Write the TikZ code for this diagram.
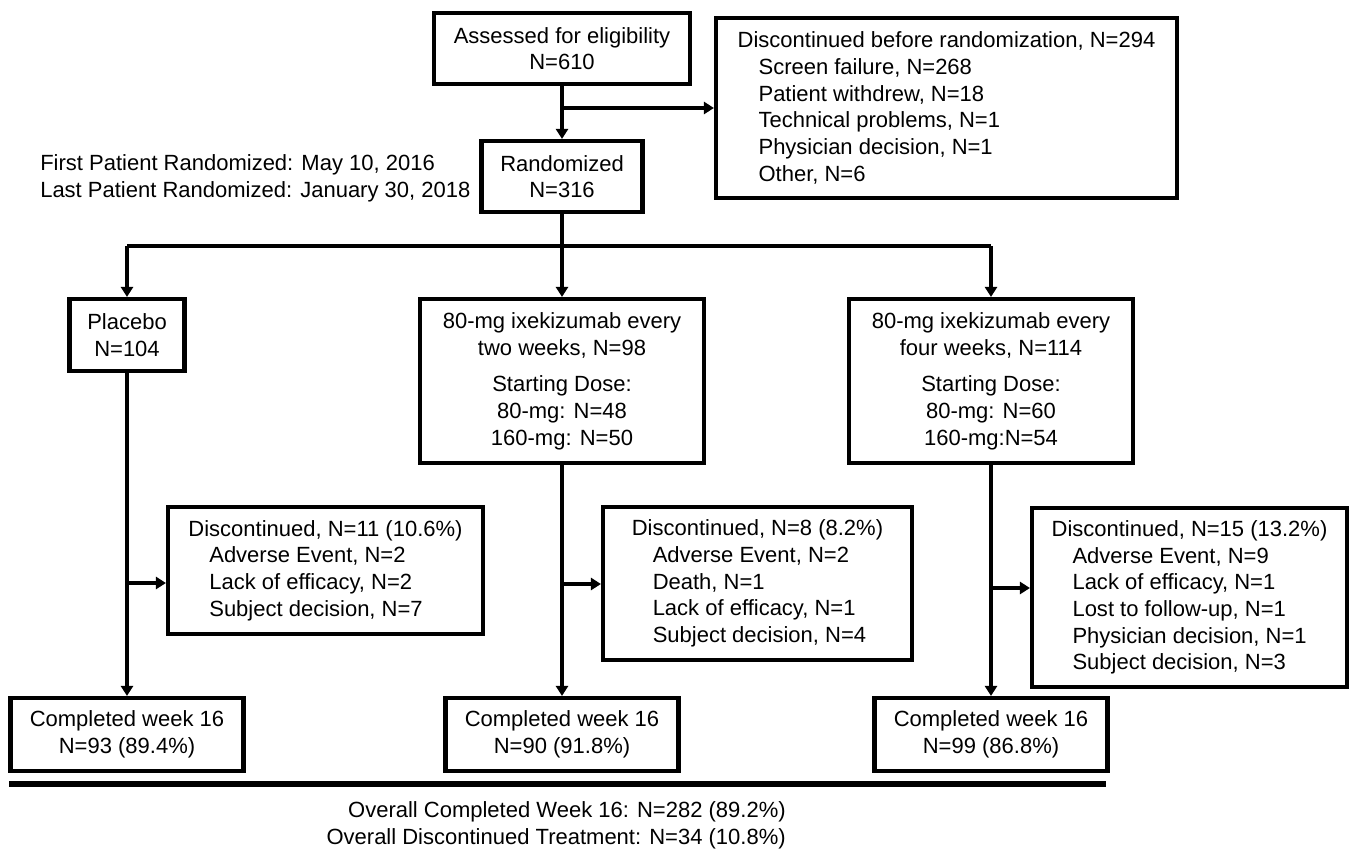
\documentclass[tikz,border=0pt]{standalone}
\usepackage{fontspec}
\setmainfont{Liberation Sans}
\usetikzlibrary{arrows.meta}
\newcommand\myind{\hspace*{0.95em}}
\begin{document}
\begin{tikzpicture}[x=0.75pt,y=-0.75pt,
  every node/.style={font=\fontsize{16.5}{20}\selectfont, inner sep=0pt},
  box/.style={draw, line width=3.1pt, align=center},
  lbox/.style={draw, line width=3.1pt, align=left},
  conn/.style={line width=3.1pt},
  arr/.style={line width=3.1pt, -{Triangle[length=7.5pt,width=9pt]}},
]
\useasboundingbox (0,0) rectangle (1351,849);

% top
\node[box, minimum width=192pt, minimum height=53.25pt] (assess) at (562,48.5) {Assessed for eligibility\\N=610};
\node[box, minimum width=120.75pt, minimum height=53.25pt] (rand) at (562,176.5) {Randomized\\N=316};
\node[lbox, minimum width=345.75pt, minimum height=135pt] (disc0) at (946.5,108) {Discontinued before randomization, N=294\\
\myind Screen failure, N=268\\
\myind Patient withdrew, N=18\\
\myind Technical problems, N=1\\
\myind Physician decision, N=1\\
\myind Other, N=6};
\node[align=left, anchor=west] (dates) at (40,178) {First Patient Randomized: May 10, 2016\\Last Patient Randomized: January 30, 2018};

% arms
\node[box, minimum width=86.25pt, minimum height=54pt] (placebo) at (127,335) {Placebo\\N=104};
\node[box, minimum width=213pt, minimum height=123pt] (arm2) at (562,381) {80-mg ixekizumab every\\two weeks, N=98\\[7.5pt]Starting Dose:\\80-mg: N=48\\160-mg: N=50};
\node[box, minimum width=213pt, minimum height=123pt] (arm3) at (991,381) {80-mg ixekizumab every\\four weeks, N=114\\[7.5pt]Starting Dose:\\80-mg: N=60\\160-mg:N=54};

% discontinued
\node[lbox, minimum width=236.25pt, minimum height=95.25pt] (disc1) at (325.5,570.5) {Discontinued, N=11 (10.6\%)\\
\myind Adverse Event, N=2\\
\myind Lack of efficacy, N=2\\
\myind Subject decision, N=7};
\node[lbox, minimum width=231.75pt, minimum height=114.75pt] (disc2) at (757.5,583.5) {Discontinued, N=8 (8.2\%)\\
\myind Adverse Event, N=2\\
\myind Death, N=1\\
\myind Lack of efficacy, N=1\\
\myind Subject decision, N=4};
\node[lbox, minimum width=236.25pt, minimum height=134.25pt] (disc3) at (1189.5,597.5) {Discontinued, N=15 (13.2\%)\\
\myind Adverse Event, N=9\\
\myind Lack of efficacy, N=1\\
\myind Lost to follow-up, N=1\\
\myind Physician decision, N=1\\
\myind Subject decision, N=3};

% completed
\node[box, minimum width=174.75pt, minimum height=54.75pt] (comp1) at (127,734.5) {Completed week 16\\N=93 (89.4\%)};
\node[box, minimum width=174.75pt, minimum height=54.75pt] (comp2) at (562,734.5) {Completed week 16\\N=90 (91.8\%)};
\node[box, minimum width=174.75pt, minimum height=54.75pt] (comp3) at (991,734.5) {Completed week 16\\N=99 (86.8\%)};

\node[align=right, anchor=east] (overall) at (786,825) {Overall Completed Week 16: N=282 (89.2\%)\\Overall Discontinued Treatment: N=34 (10.8\%)};

% connectors
\draw[arr] (assess.south) -- (rand.north);
\draw[arr] (assess.south |- disc0.west) -- (disc0.west);
\coordinate (split) at (562,246);
\draw[conn] (rand.south) -- (split);
\draw[conn] (placebo.north |- split) -- (arm3.north |- split);
\draw[arr] (placebo.north |- split) -- (placebo.north);
\draw[arr] (split) -- (arm2.north);
\draw[arr] (arm3.north |- split) -- (arm3.north);

\draw[arr] (placebo.south) -- (comp1.north);
\draw[arr] (arm2.south) -- (comp2.north);
\draw[arr] (arm3.south) -- (comp3.north);

\coordinate (s1) at (127,583);
\coordinate (s2) at (562,584);
\coordinate (s3) at (991,588);
\draw[arr] (s1) -- (s1 -| disc1.west);
\draw[arr] (s2) -- (s2 -| disc2.west);
\draw[arr] (s3) -- (s3 -| disc3.west);

\coordinate (ruleL) at (9,784);
\coordinate (ruleR) at (1106,784);
\draw[line width=3.8pt] (ruleL) -- (ruleR);
\end{tikzpicture}
\end{document}
